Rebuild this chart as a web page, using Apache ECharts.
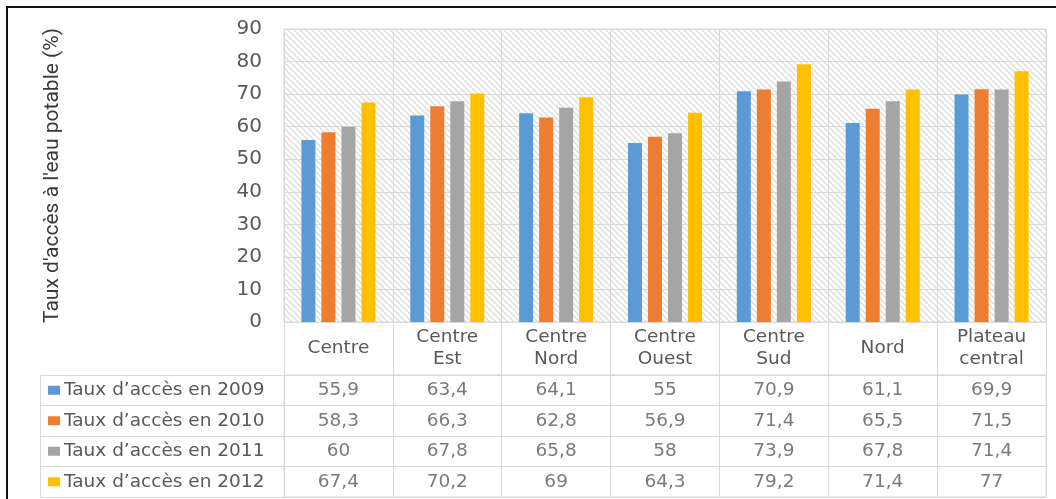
<!DOCTYPE html>
<html>
<head>
<meta charset="utf-8">
<title>Taux d'accès à l'eau potable</title>
<script src="https://cdn.jsdelivr.net/npm/echarts@6/dist/echarts.min.js"></script>
<style>
  html, body { margin: 0; padding: 0; background: #fff; }
  #chart { width: 1056px; height: 499px; }
</style>
</head>
<body>
<div id="chart"></div>
<script>
// Regions (two-line labels for the table header)
const regions = ['Centre', 'Centre\nEst', 'Centre\nNord', 'Centre\nOuest', 'Centre\nSud', 'Nord', 'Plateau\ncentral'];

// Access rate to drinking water (%) per year
const rate2009 = [55.9, 63.4, 64.1, 55, 70.9, 61.1, 69.9];
const rate2010 = [58.3, 66.3, 62.8, 56.9, 71.4, 65.5, 71.5];
const rate2011 = [60, 67.8, 65.8, 58, 73.9, 67.8, 71.4];
const rate2012 = [67.4, 70.2, 69, 64.3, 79.2, 71.4, 77];

const seriesNames = ["Taux d’accès en 2009", "Taux d’accès en 2010", "Taux d’accès en 2011", "Taux d’accès en 2012"];
const seriesColors = ['#5B9BD5', '#ED7D31', '#A5A5A5', '#FFC000'];
const yTicks = [0, 10, 20, 30, 40, 50, 60, 70, 80, 90];

const allRates = [rate2009, rate2010, rate2011, rate2012];

// Diagonal hatch used as the plot background
function hatch() {
  const c = document.createElement('canvas');
  c.width = 6; c.height = 6;
  const g = c.getContext('2d');
  g.fillStyle = '#ffffff';
  g.fillRect(0, 0, 6, 6);
  g.strokeStyle = '#dcdcdc';
  g.lineWidth = 1.3;
  g.beginPath();
  g.moveTo(-1, -1); g.lineTo(7, 7);
  g.moveTo(-4, 2); g.lineTo(4, 10);
  g.moveTo(2, -4); g.lineTo(10, 4);
  g.stroke();
  return c;
}

const gridLine = '#d9d9d9';
const textColor = '#595959';
const font = "'DejaVu Sans', Verdana, sans-serif";
const tableSize = 18.5;

// Data table cells: [region index, row index, value]
const tableCells = [];
allRates.forEach((arr, r) => arr.forEach((v, i) => tableCells.push([i, r, v])));

const rich = { t: { fontSize: 18.5, color: textColor, fontFamily: font, padding: [0, 0, 0, 4] } };
seriesColors.forEach((c, i) => { rich['s' + i] = { width: 12, height: 9, backgroundColor: c }; });

const chart = echarts.init(document.getElementById('chart'), null, { renderer: 'canvas' });

chart.setOption({
  animation: false,
  backgroundColor: '#ffffff',
  grid: [
    { left: 284, right: 10, top: 29, bottom: 177, show: true,
      backgroundColor: { image: hatch(), repeat: 'repeat' },
      borderColor: gridLine, borderWidth: 1 },
    { left: 284, right: 10, top: 375, bottom: 2, show: true,
      backgroundColor: 'transparent', borderColor: gridLine, borderWidth: 1 }
  ],
  xAxis: [
    { type: 'category', data: regions, gridIndex: 0,
      axisLine: { lineStyle: { color: gridLine } },
      axisTick: { show: true, length: 53, lineStyle: { color: gridLine } },
      splitLine: { show: true, lineStyle: { color: gridLine } },
      axisLabel: { color: textColor, fontSize: tableSize, fontFamily: font, lineHeight: 22,
        verticalAlign: 'middle', margin: 26, interval: 0 } },
    { type: 'category', data: regions, gridIndex: 1,
      axisLine: { show: false }, axisTick: { show: false }, axisLabel: { show: false },
      splitLine: { show: true, lineStyle: { color: gridLine } } }
  ],
  yAxis: [
    { type: 'value', gridIndex: 0, min: 0, max: 90, interval: 10,
      name: "Taux d'accès à l'eau potable (%)", nameLocation: 'middle', nameGap: 221,
      nameTextStyle: { fontSize: 21, color: '#3a3a3a', fontFamily: "Roboto, 'Liberation Sans', sans-serif" },
      axisLine: { show: false }, axisTick: { show: false },
      splitLine: { show: true, lineStyle: { color: gridLine } },
      axisLabel: { color: textColor, fontSize: 20, fontFamily: font, margin: 22,
        formatter: v => yTicks.includes(v) ? String(v) : '' } },
    { type: 'category', gridIndex: 1, inverse: true, data: seriesNames.map((n, i) => i),
      axisLine: { show: false },
      axisTick: { show: true, length: 244, lineStyle: { color: gridLine } },
      splitLine: { show: true, lineStyle: { color: gridLine } },
      axisLabel: { align: 'left', margin: 236,
        formatter: i => '{s' + i + '|}{t|' + seriesNames[i] + '}', rich: rich } },
    { type: 'category', gridIndex: 1, inverse: true, data: seriesNames.map((n, i) => i),
      position: 'left', offset: 244,
      axisLine: { show: true, lineStyle: { color: gridLine } },
      axisTick: { show: false }, axisLabel: { show: false }, splitLine: { show: false } }
  ],
  series: allRates.map((arr, k) => ({
    name: seriesNames[k], type: 'bar', xAxisIndex: 0, yAxisIndex: 0,
    data: arr, barWidth: 14, barGap: '43%',
    itemStyle: { color: seriesColors[k] }
  })).concat([{
    type: 'scatter', xAxisIndex: 1, yAxisIndex: 1, data: tableCells,
    symbolSize: 1, itemStyle: { color: 'rgba(0,0,0,0)' }, silent: true,
    label: { show: true, position: 'inside', color: textColor, fontSize: tableSize, fontFamily: font,
      formatter: p => String(p.value[2]).replace('.', ',') }
  }]),
  graphic: [
    { type: 'polyline', shape: { points: [[7, 499], [7, 7], [1056, 7]] },
      style: { stroke: '#111111', lineWidth: 2, fill: null } }
  ]
});
</script>
</body>
</html>
